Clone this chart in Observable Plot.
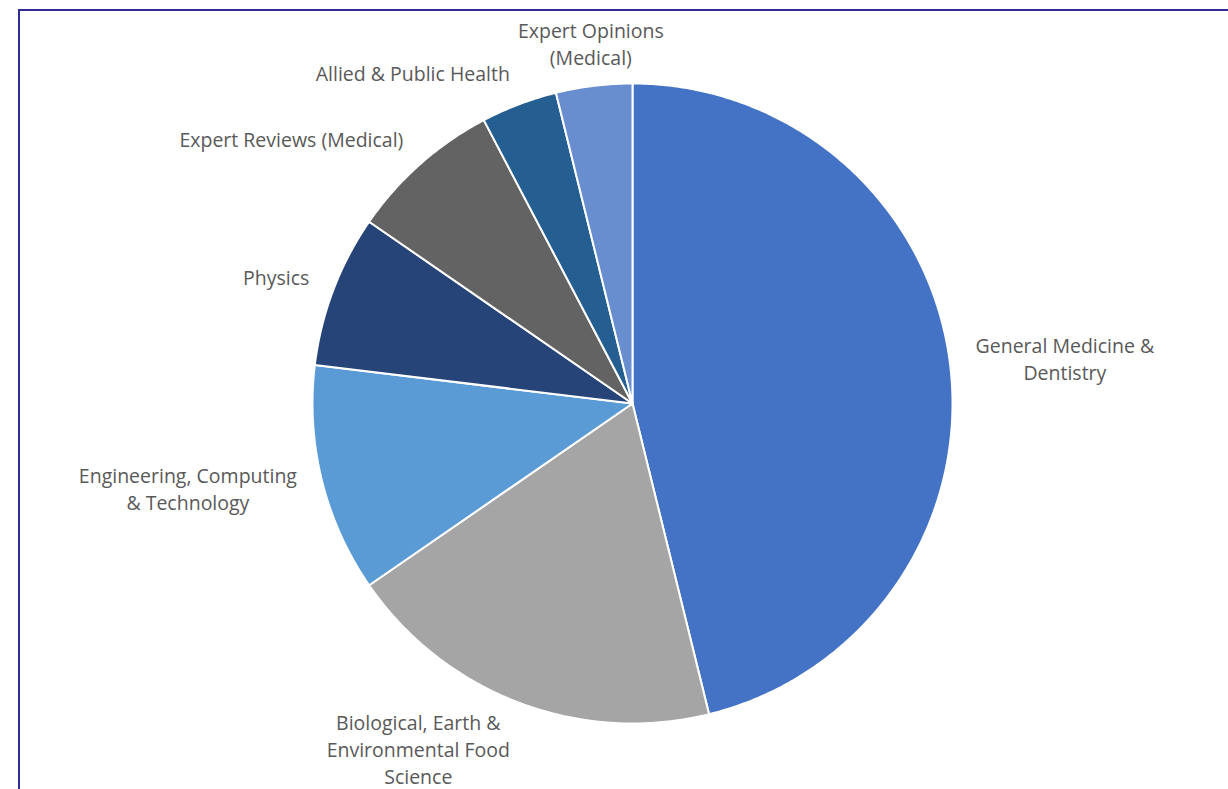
<!DOCTYPE html>
<html>
<head>
<meta charset="utf-8">
<script src="https://cdn.jsdelivr.net/npm/d3@7"></script>
<script src="https://cdn.jsdelivr.net/npm/@observablehq/plot@0.6"></script>
<style>
  html, body { margin: 0; padding: 0; background: #ffffff; overflow: hidden; width: 1228px; height: 789px; }
  #frame { position: absolute; left: 18px; top: 9px; width: 1400px; height: 1000px; border: 2px solid #302C93; box-sizing: border-box; }
  #chart { position: absolute; left: 0; top: 0; }
</style>
</head>
<body>
<div id="frame"></div>
<div id="chart"></div>
<script>
// ---- data ----
const categories = [
  "General Medicine & Dentistry",
  "Biological, Earth & Environmental Food Science",
  "Engineering, Computing & Technology",
  "Physics",
  "Expert Reviews (Medical)",
  "Allied & Public Health",
  "Expert Opinions (Medical)"
];
const counts = [12, 5, 3, 2, 2, 1, 1];
const labelTexts = [
  "General Medicine &\nDentistry",
  "Biological, Earth &\nEnvironmental Food\nScience",
  "Engineering, Computing\n& Technology",
  "Physics",
  "Expert Reviews (Medical)",
  "Allied & Public Health",
  "Expert Opinions\n(Medical)"
];
const sliceColors = ["#4472C4", "#A5A5A5", "#5B9BD5", "#264478", "#636363", "#255E91", "#698ED0"];

// ---- layout constants ----
const W = 1228, H = 789;
const R = 320;                 // pixels per data unit (pie radius)
const CX = 632, CY = 403;
const FONT_SIZE = 19.5, LINE_PX = 27;
const LINE_H = LINE_PX / FONT_SIZE;
const FONT_FAMILY = "'Open Sans', 'Noto Sans', sans-serif";

const arcs = d3.pie().sort(null).value(d => d)(counts);

// slice polygons built from pie angles
const polys = [];
arcs.forEach((a, i) => {
  const cat = categories[i];
  polys.push({cat, x: 0, y: 0});
  const n = Math.max(2, Math.ceil((a.endAngle - a.startAngle) / (Math.PI / 360)));
  for (let k = 0; k <= n; k++) {
    const t = a.startAngle + (a.endAngle - a.startAngle) * k / n;
    polys.push({cat, x: Math.sin(t), y: Math.cos(t)});
  }
  polys.push({cat, x: 0, y: 0});
});

// label placement (outside end, aligned away from the pie)
const ctx = document.createElement("canvas").getContext("2d");
ctx.font = `${FONT_SIZE}px ${FONT_FAMILY}`;
const labels = arcs.map((a, i) => {
  const mid = (a.startAngle + a.endAngle) / 2;
  const s = Math.sin(mid), c = Math.cos(mid);
  const lines = labelTexts[i].split("\n");
  const w = d3.max(lines, l => ctx.measureText(l).width) / R;
  const extra = (lines.length - 1) * LINE_PX / 2 / R;
  let x = s * 1.08, y = c * 1.1;
  if (s > 0.25) x += w / 2; else if (s < -0.25) x -= w / 2;
  y += c * extra * 0.7;
  return {x, y, text: labelTexts[i]};
});

const chart = Plot.plot({
  width: W,
  height: H,
  margin: 0,
  x: {domain: [-1, 1], range: [CX - R, CX + R], axis: null},
  y: {domain: [-1, 1], range: [CY + R, CY - R], axis: null},
  color: {domain: categories, range: sliceColors},
  style: {background: "transparent", overflow: "visible"},
  marks: [
    Plot.line(polys, {x: "x", y: "y", z: "cat", fill: "cat", stroke: "#ffffff", strokeWidth: 2, curve: "linear", strokeLinejoin: "round"}),
    Plot.text(labels, {x: "x", y: "y", dy: -2, text: "text", textAnchor: "middle", lineAnchor: "middle", lineHeight: LINE_H, fontSize: FONT_SIZE, fontFamily: FONT_FAMILY, fill: "#595959"})
  ]
});
document.getElementById("chart").appendChild(chart);
</script>
</body>
</html>
